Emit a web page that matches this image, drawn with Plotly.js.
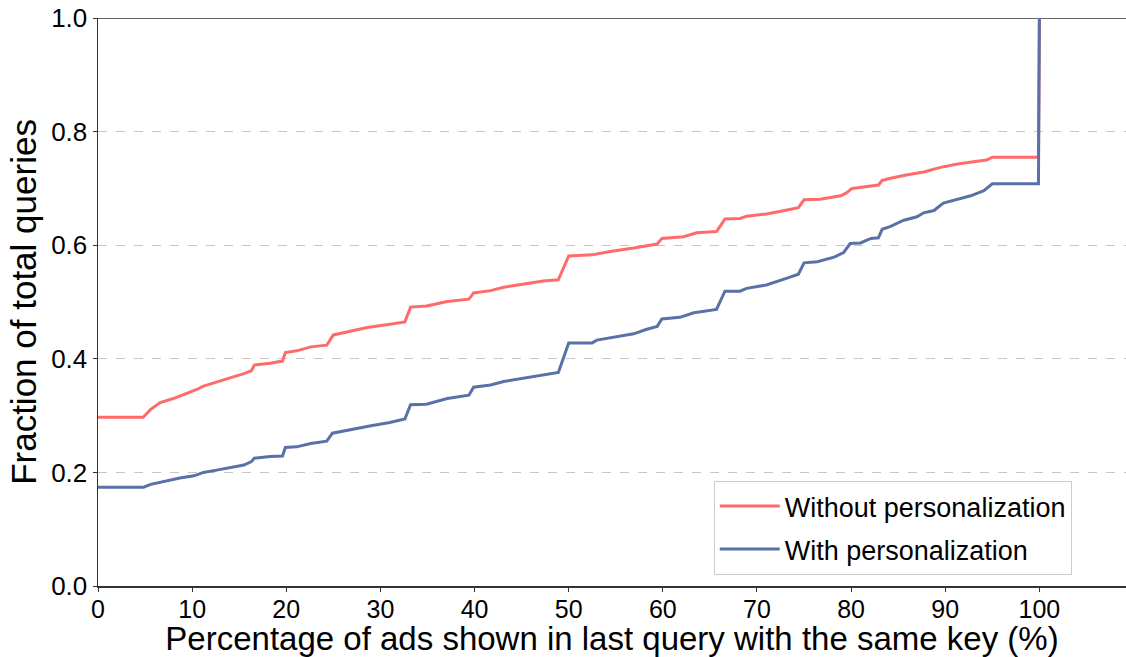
<!DOCTYPE html>
<html>
<head>
<meta charset="utf-8">
<script src="https://cdn.plot.ly/plotly-3.0.1.min.js"></script>
<style>html,body{margin:0;padding:0;background:#fff;}#chart{width:1126px;height:657px;}</style>
</head>
<body>
<div id="chart"></div>
<script>
const seriesNames = ["Without personalization", "With personalization"];
const redX = [0,4.8,5.6,6.6,8.0,9.5,10.5,11.2,12.6,14.1,15.5,16.3,16.6,18.3,19.6,19.9,21.1,22.6,24.3,25.0,26.8,28.6,31.0,32.6,33.2,34.9,37.1,39.4,39.9,41.7,43.1,45.2,47.3,48.9,50.0,52.5,54.4,56.9,59.4,59.9,62.2,63.6,65.7,66.6,68.2,68.9,71.0,73.2,74.4,75.0,76.7,78.9,79.5,80.1,81.5,82.9,83.3,84.2,86.0,87.7,89.5,91.3,93.0,94.4,95.0,99.9,100];
const redY = [0.297,0.297,0.311,0.323,0.330,0.339,0.346,0.352,0.359,0.366,0.374,0.379,0.389,0.392,0.396,0.411,0.414,0.421,0.424,0.442,0.449,0.455,0.461,0.465,0.491,0.493,0.501,0.505,0.516,0.520,0.526,0.531,0.537,0.539,0.581,0.583,0.589,0.595,0.602,0.612,0.615,0.622,0.624,0.646,0.647,0.651,0.655,0.662,0.666,0.680,0.681,0.687,0.692,0.700,0.703,0.706,0.714,0.718,0.724,0.729,0.737,0.743,0.747,0.750,0.755,0.755,1.0];
const blueX = [0,4.85,5.6,7.0,8.7,10.2,11.2,12.6,14.1,15.5,16.3,16.6,18.3,19.6,19.9,21.1,22.6,24.3,24.9,27.0,29.0,31.0,32.6,33.2,34.9,37.1,39.4,39.9,41.7,43.1,45.2,47.3,48.9,50.0,52.5,53.0,54.8,56.9,58.3,59.4,59.9,61.8,63.3,65.7,66.6,68.2,68.9,71.0,73.2,74.4,75.0,76.4,78.2,79.2,79.9,81.0,82.1,82.9,83.3,84.2,85.6,87.0,87.7,88.8,89.8,91.3,92.7,94.1,95.0,99.9,100];
const blueY = [0.174,0.174,0.179,0.184,0.190,0.194,0.200,0.204,0.209,0.213,0.219,0.225,0.228,0.229,0.244,0.245,0.251,0.255,0.269,0.275,0.282,0.288,0.294,0.319,0.320,0.330,0.336,0.350,0.354,0.360,0.366,0.371,0.376,0.428,0.428,0.433,0.438,0.444,0.452,0.457,0.470,0.473,0.481,0.487,0.519,0.519,0.524,0.530,0.542,0.549,0.569,0.571,0.579,0.587,0.603,0.604,0.612,0.613,0.628,0.633,0.644,0.650,0.657,0.661,0.674,0.681,0.687,0.696,0.708,0.708,1.0];
const xTicks = [0,10,20,30,40,50,60,70,80,90,100];
const yTicks = [0.0,0.2,0.4,0.6,0.8,1.0];
const yTickText = ["0.0","0.2","0.4","0.6","0.8","1.0"];

const FONT = "Liberation Sans, Arial, sans-serif";
const traces = [
  {x: redX, y: redY, name: seriesNames[0], legendgroup: "a", mode: "lines", line: {color: "#ff6b6b", width: 3}},
  {x: blueX, y: blueY, name: seriesNames[1], legendgroup: "b", mode: "lines", line: {color: "#5a70a8", width: 3}}
];
const layout = {
  width: 1126, height: 657,
  margin: {l: 98, r: 0, t: 18, b: 71},
  paper_bgcolor: "#fff", plot_bgcolor: "#fff",
  font: {family: FONT, size: 26, color: "#000"},
  showlegend: true,
  legend: {x: 0.599, y: 0.185, xanchor: "left", yanchor: "top",
    bgcolor: "rgba(255,255,255,0.9)", bordercolor: "#cccccc", borderwidth: 1,
    font: {family: FONT, size: 27, color: "#000"}, itemwidth: 60, tracegroupgap: 5},
  xaxis: {range: [0, 109.2], tickvals: xTicks, ticks: "outside", ticklen: 4, tickwidth: 1, tickcolor: "#333",
    showline: true, linecolor: "#333", linewidth: 1.5, showgrid: false, zeroline: false, automargin: false,
    ticklabelstandoff: -4,
    tickfont: {family: FONT, size: 25, color: "#000"},
    title: {text: "Percentage of ads shown in last query with the same key (%)", font: {family: FONT, size: 33, color: "#000"}, standoff: 0}},
  yaxis: {range: [0, 1], tickvals: yTicks, ticktext: yTickText, ticks: "outside", ticklen: 4, tickwidth: 1, tickcolor: "#333",
    showline: true, linecolor: "#333", linewidth: 1.5, showgrid: true, gridcolor: "#b8b8b8", griddash: "dash", gridwidth: 0.8, zeroline: false, automargin: false,
    tickfont: {family: FONT, size: 26, color: "#000"},
    title: {text: "Fraction of total queries", font: {family: FONT, size: 35, color: "#000"}, standoff: 4}},
  shapes: [{type: "line", xref: "paper", yref: "y", x0: 0, x1: 1, y0: 1, y1: 1, line: {color: "#333", width: 1.5}, layer: "below"}]
};
Plotly.newPlot("chart", traces, layout, {displayModeBar: false, staticPlot: true});
</script>
</body>
</html>
